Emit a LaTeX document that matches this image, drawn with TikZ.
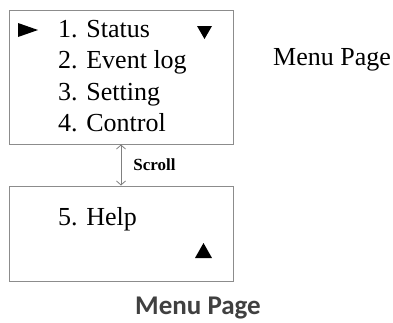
\documentclass[tikz,border=0pt]{standalone}
\usepackage{fontspec}
\setmainfont{LiberationSerif}[Extension=.ttf,UprightFont=*-Regular,BoldFont=*-Bold]
\newfontfamily\capfont{Carlito}
\usetikzlibrary{arrows.meta}
\definecolor{framegray}{HTML}{8C8C8C}
\definecolor{captiongray}{HTML}{404040}
\tikzset{
  screen/.style={draw=framegray,line width=1pt,minimum width=224pt,inner sep=0pt},
  item/.style={anchor=base west,inner sep=0pt,font=\fontsize{26}{26}\selectfont},
}
\begin{document}
\begin{tikzpicture}[x=1pt,y=-1pt,>={Straight Barb[length=4pt,width=9pt]}]
  \useasboundingbox (0,0) rectangle (393,322);

  % 屏幕
  \node[screen,minimum height=134pt] (page1) at (121,77) {};
  \node[screen,minimum height=95pt] (page2) at (121,233.5) {};

  % 菜单项
  \node[item] (status) at (58,37) {1. Status};
  \node[item] (eventlog) at (58,68.5) {2. Event log};
  \node[item] (setting) at (58,100) {3. Setting};
  \node[item] (control) at (58,131.5) {4. Control};
  \node[item] (help) at (58,225) {5. Help};

  % 三角形
  \fill (18,23) -- (38,30) -- (18,37) -- cycle;
  \fill (197,26) -- (212,26) -- (204.5,39) -- cycle;
  \fill (195,258) -- (212,258) -- (203.5,243) -- cycle;

  % 滚动
  \draw[<->,draw=gray,line width=0.8pt] (page1.south) -- (page2.north)
       node[midway,anchor=west,xshift=12pt,inner sep=0pt,
            font=\fontsize{17}{17}\selectfont\bfseries] (scroll) {Scroll};

  % 标签
  \node[item] (title) at (273,65) {Menu Page};
  \node[anchor=base,inner sep=0pt,text=captiongray,
        font=\capfont\bfseries\fontsize{27}{27}\selectfont] (caption) at (198,314) {Menu Page};
\end{tikzpicture}
\end{document}
